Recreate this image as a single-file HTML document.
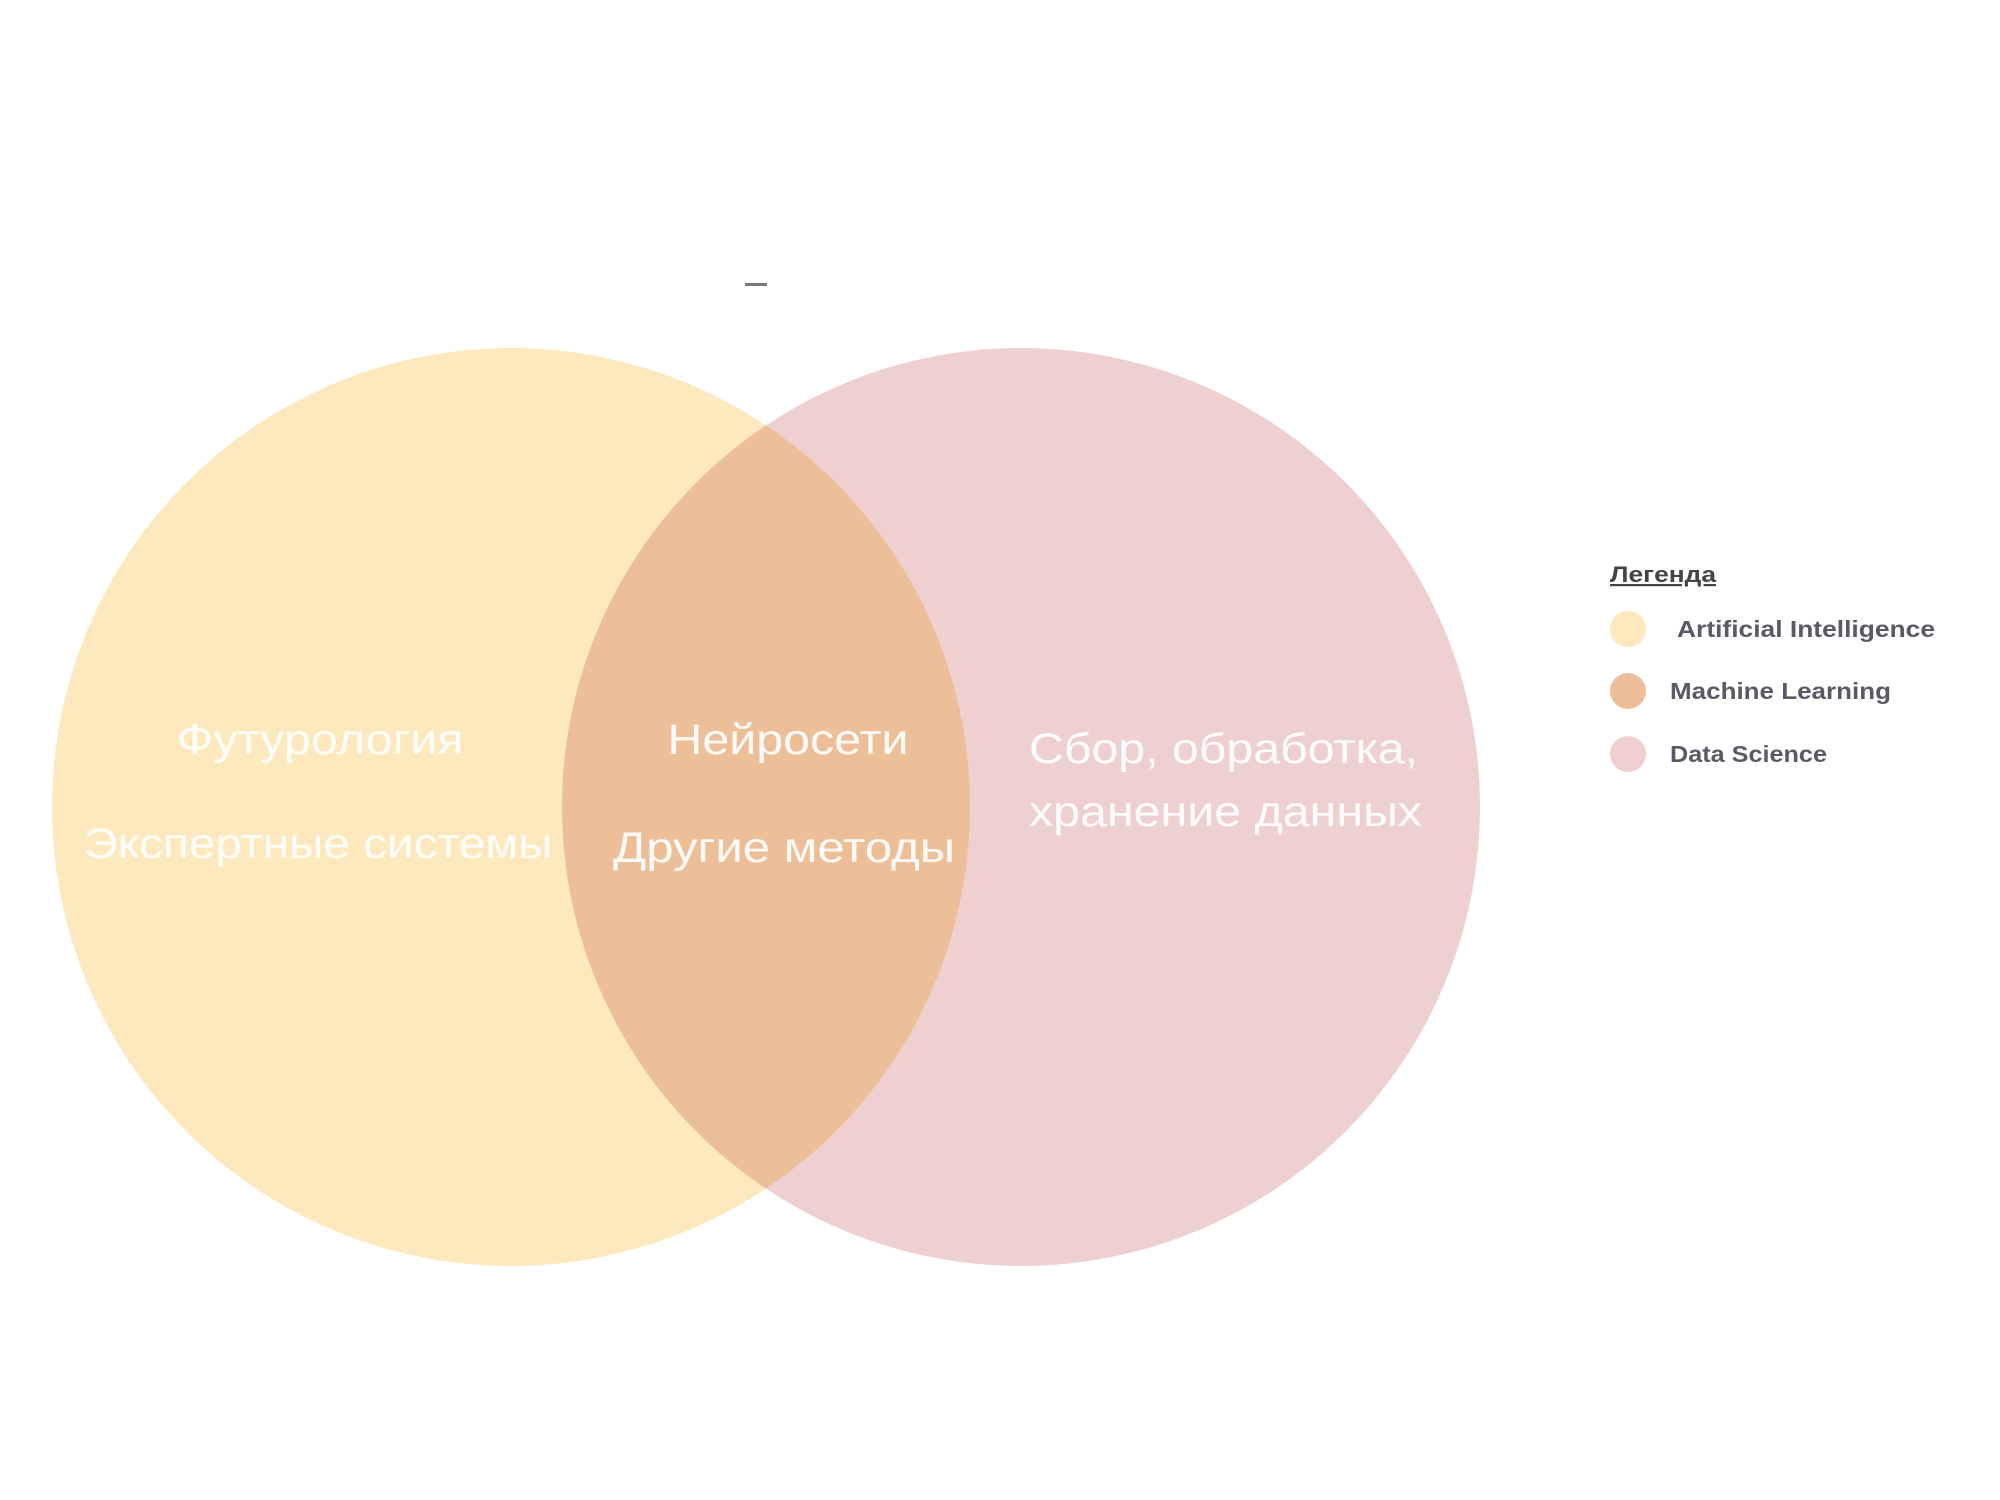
<!DOCTYPE html>
<html><head><meta charset="utf-8"><style>
body{margin:0;width:2000px;height:1500px;background:#fff;overflow:hidden}
svg{display:block}
text{font-family:"Liberation Sans","DejaVu Sans",sans-serif}
</style></head><body>
<svg width="2000" height="1500" viewBox="0 0 2000 1500">
<defs><clipPath id="c"><circle cx="511" cy="807" r="459"/></clipPath></defs>
<rect x="745" y="283" width="22" height="3" fill="#777"/>
<circle cx="511" cy="807" r="459" fill="#fde9bd"/>
<circle cx="1021" cy="807" r="459" fill="#efd0d0"/>
<circle cx="1021" cy="807" r="459" fill="#edbf99" clip-path="url(#c)"/>
<g fill="#fff" fill-opacity="0.92" font-size="43" text-anchor="middle" lengthAdjust="spacingAndGlyphs">
<text x="320" y="754" textLength="287" lengthAdjust="spacingAndGlyphs">Футурология</text>
<text x="318" y="858" textLength="469" lengthAdjust="spacingAndGlyphs">Экспертные системы</text>
<text x="788" y="754" textLength="241" lengthAdjust="spacingAndGlyphs">Нейросети</text>
<text x="784" y="862" textLength="342" lengthAdjust="spacingAndGlyphs">Другие методы</text>
</g>
<g fill="#fff" fill-opacity="0.92" font-size="43">
<text x="1029" y="763" textLength="389" lengthAdjust="spacingAndGlyphs">Сбор, обработка,</text>
<text x="1029" y="826" textLength="393" lengthAdjust="spacingAndGlyphs">хранение данных</text>
</g>
<text x="1610" y="582" font-size="22" font-weight="bold" fill="#444" text-decoration="underline" textLength="106" lengthAdjust="spacingAndGlyphs">Легенда</text>
<circle cx="1628" cy="629" r="18" fill="#fde9bd"/>
<circle cx="1628" cy="691" r="18" fill="#edbf99"/>
<circle cx="1628" cy="754" r="18" fill="#efd0d0"/>
<g font-size="23" font-weight="bold" fill="#5a5a66">
<text x="1677" y="637" textLength="258" lengthAdjust="spacingAndGlyphs">Artificial Intelligence</text>
<text x="1670" y="699" textLength="221" lengthAdjust="spacingAndGlyphs">Machine Learning</text>
<text x="1670" y="762" textLength="157" lengthAdjust="spacingAndGlyphs">Data Science</text>
</g>
</svg>
</body></html>
